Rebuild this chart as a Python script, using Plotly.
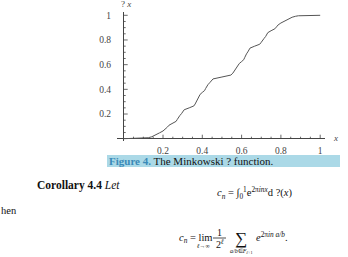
import plotly.graph_objects as go

# Minkowski ?(x) values (Stern-Brocot points)
x_left = [0.0, 0.1111, 0.125, 0.142857, 0.166667, 0.181818, 0.2, 0.214286, 0.222222, 0.230769,
          0.25, 0.266667, 0.272727, 0.277778, 0.285714, 0.294118, 0.3, 0.307692,
          0.333333, 0.357143, 0.363636, 0.368421, 0.375, 0.380952, 0.384615, 0.388889,
          0.4, 0.411765, 0.416667, 0.421053, 0.428571, 0.4375, 0.444444, 0.454545, 0.5]
y_left = [0.0, 0.0039, 0.0078, 0.015625, 0.03125, 0.046875, 0.0625, 0.078125, 0.09375, 0.109375,
          0.125, 0.140625, 0.15625, 0.171875, 0.1875, 0.203125, 0.21875, 0.234375,
          0.25, 0.265625, 0.28125, 0.296875, 0.3125, 0.328125, 0.34375, 0.359375,
          0.375, 0.390625, 0.40625, 0.421875, 0.4375, 0.453125, 0.46875, 0.484375, 0.5]
x_right = [0.545455, 0.555556, 0.5625, 0.571429, 0.578947, 0.583333, 0.588235, 0.6,
           0.611111, 0.615385, 0.619048, 0.625, 0.631579, 0.636364, 0.642857, 0.666667,
           0.692308, 0.7, 0.705882, 0.714286, 0.722222, 0.727273, 0.733333, 0.75,
           0.769231, 0.777778, 0.785714, 0.8, 0.818182, 0.833333, 0.857143, 0.875, 0.8889, 1.0]
y_right = [0.515625, 0.53125, 0.546875, 0.5625, 0.578125, 0.59375, 0.609375, 0.625,
           0.640625, 0.65625, 0.671875, 0.6875, 0.703125, 0.71875, 0.734375, 0.75,
           0.765625, 0.78125, 0.796875, 0.8125, 0.828125, 0.84375, 0.859375, 0.875,
           0.890625, 0.90625, 0.921875, 0.9375, 0.953125, 0.96875, 0.984375, 0.9922, 0.9961, 1.0]
xs = x_left + x_right
ys = y_left + y_right

tick_vals = [0.2, 0.4, 0.6, 0.8, 1.0]
tick_text = ["0.2", "0.4", "0.6", "0.8", "1"]

W, H = 348, 257
serif = "Liberation Serif, Times New Roman, serif"
gray = "#444444"

fig = go.Figure()
fig.add_trace(go.Scatter(x=xs, y=ys, mode="lines", line=dict(color="#555555", width=1),
                         hoverinfo="skip", showlegend=False))

# axis geometry (pixels)
x0px, x1px = 123.7, 320.2   # x=0, x=1
y0px, y1px = 138.7, 15.3    # y=0, y=1
left_px, right_px = 117.0, 325.0
top_px, bot_px = 12.0, 141.0
sx = x1px - x0px
sy = y0px - y1px
xr = [(left_px - x0px) / sx, (right_px - x0px) / sx]
yr = [(y0px - bot_px) / sy, (y0px - top_px) / sy]

fig.update_layout(
    width=W, height=H, margin=dict(l=0, r=0, t=0, b=0),
    paper_bgcolor="white", plot_bgcolor="white",
    font=dict(family=serif, size=9, color=gray),
    xaxis=dict(domain=[left_px / W, right_px / W], range=xr, showgrid=False,
               zeroline=True, zerolinecolor=gray, zerolinewidth=1,
               showline=False, tickvals=tick_vals, ticktext=tick_text,
               ticks="", anchor="y", tickfont=dict(size=9.5, color=gray),
               ticklabelstandoff=2),
    yaxis=dict(domain=[1 - bot_px / H, 1 - top_px / H], range=yr, showgrid=False,
               zeroline=True, zerolinecolor=gray, zerolinewidth=1,
               showline=False, tickvals=tick_vals, ticktext=tick_text,
               ticks="", anchor="x", tickfont=dict(size=9.5, color=gray),
               ticklabelstandoff=5),
)

# tick marks drawn along the axes at zero (minor every 0.05)
shapes = []
for i in range(1, 21):
    v = i * 0.05
    major = (i % 4 == 0)
    ln = 4 if major else 2
    shapes.append(dict(type="line", xref="x", yref="paper",
                       x0=v, x1=v, y0=1 - y0px / H, y1=1 - (y0px - ln) / H,
                       line=dict(color=gray, width=0.8)))
    shapes.append(dict(type="line", xref="paper", yref="y",
                       x0=x0px / W, x1=(x0px + ln) / W, y0=v, y1=v,
                       line=dict(color=gray, width=0.8)))
# caption band
shapes.append(dict(type="rect", xref="paper", yref="paper",
                   x0=107 / W, x1=340 / W, y0=1 - 167 / H, y1=1 - 155 / H,
                   fillcolor="#abd9e7", line=dict(width=0), layer="below"))
# fraction bar in the second formula
shapes.append(dict(type="line", xref="paper", yref="paper",
                   x0=213 / W, x1=226 / W, y0=1 - 238 / H, y1=1 - 238 / H,
                   line=dict(color="#222222", width=0.8)))
fig.update_layout(shapes=shapes)

def ann(text, xpx, ypx, size, xanchor="left", color="#111111"):
    fig.add_annotation(text=text, xref="paper", yref="paper", x=xpx / W, y=1 - ypx / H,
                       xanchor=xanchor, yanchor="middle", showarrow=False,
                       font=dict(family=serif, size=size, color=color))

ann("<i>x</i>", 331, 138, 9, color=gray)
ann("? <i>x</i>", 126, 4, 9, xanchor="center", color=gray)
ann("<span style='color:#3a8ab8'><b>Figure 4.</b></span> The Minkowski ? function.", 107, 161, 11)
ann("<b>Corollary 4.4</b> <i>Let</i>", 35, 185, 11.5)
ann("hen", -1, 210, 10.5)
ann("<i>c<sub>n</sub></i> = ∫<sub>0</sub><sup>1</sup>e<sup>2π<i>inx</i></sup>d ?(<i>x</i>)", 255, 193, 10.5, xanchor="center")
# second formula built from pieces
ann("<i>c<sub>n</sub></i> = lim", 177, 238, 10.5)
ann("<i>ℓ</i>→∞", 203, 246, 6, xanchor="center")
ann("1", 219.5, 232, 10, xanchor="center")
ann("2<sup><i>ℓ</i></sup>", 219.5, 244, 10, xanchor="center")
ann("∑", 241, 238, 17, xanchor="center")
ann("<i>a/b</i>∈<i>F</i><sub><i>ℓ</i>+1</sub>", 241, 251, 6, xanchor="center")
ann("<i>e</i><sup>2π<i>in a/b</i></sup>.", 254, 236, 10.5)

fig.write_html("out.html")
